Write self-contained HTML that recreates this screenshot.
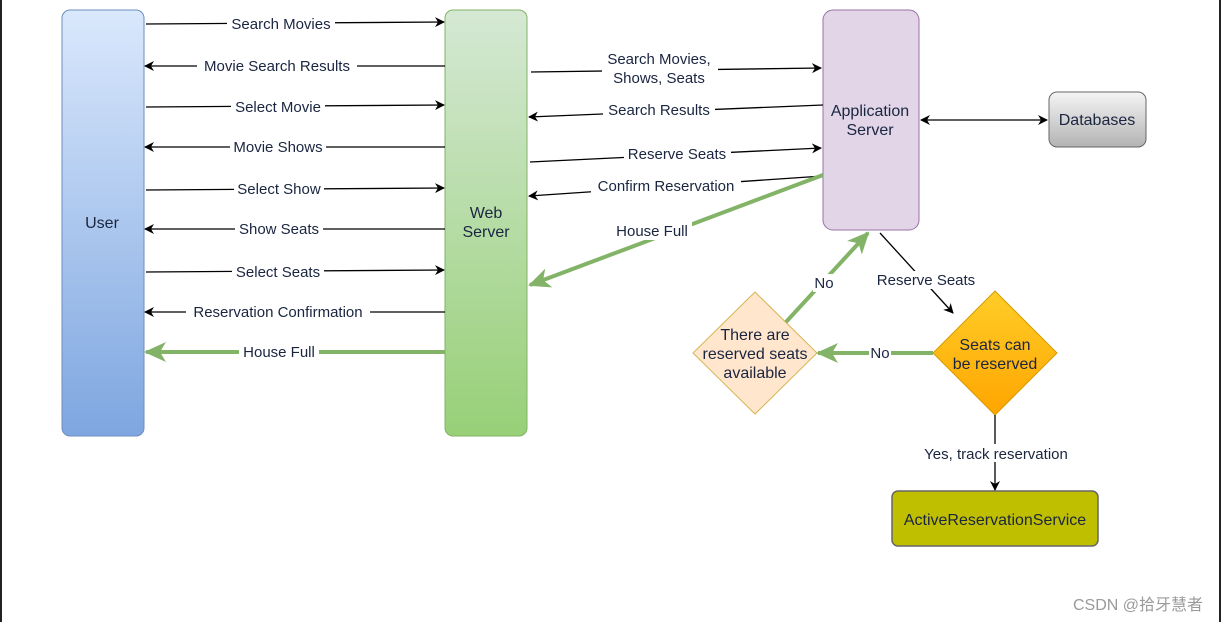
<!DOCTYPE html>
<html><head><meta charset="utf-8"><style>
html,body{margin:0;padding:0;background:#fff;}
svg{display:block;font-family:"Liberation Sans",Arial,sans-serif;}
</style></head><body>
<svg width="1221" height="622" viewBox="0 0 1221 622" xmlns="http://www.w3.org/2000/svg">
<defs>
<linearGradient id="gb" x1="0" y1="0" x2="0" y2="1"><stop offset="0" stop-color="#dae8fc"/><stop offset="1" stop-color="#7ea6e0"/></linearGradient>
<linearGradient id="gg" x1="0" y1="0" x2="0" y2="1"><stop offset="0" stop-color="#d5e8d4"/><stop offset="1" stop-color="#97d077"/></linearGradient>
<linearGradient id="gy" x1="0" y1="0" x2="0" y2="1"><stop offset="0" stop-color="#f5f5f5"/><stop offset="1" stop-color="#b3b3b3"/></linearGradient>
<linearGradient id="go" x1="0" y1="0" x2="0" y2="1"><stop offset="0" stop-color="#ffcd28"/><stop offset="1" stop-color="#ffa500"/></linearGradient>
<marker id="a" markerWidth="10" markerHeight="10" refX="9" refY="5" orient="auto" markerUnits="userSpaceOnUse"><path d="M0,0 L10,5 L0,10 L3,5 Z" fill="#000"/></marker>
<marker id="as" markerWidth="10" markerHeight="10" refX="1" refY="5" orient="auto" markerUnits="userSpaceOnUse"><path d="M10,0 L0,5 L10,10 L7,5 Z" fill="#000"/></marker>
<marker id="ag" markerWidth="22" markerHeight="20" refX="20" refY="10" orient="auto" markerUnits="userSpaceOnUse"><path d="M0,0 L22,10 L0,20 L6,10 Z" fill="#82b366"/></marker>
</defs>
<rect x="0" y="0" width="2" height="622" fill="#222"/>
<rect x="1219" y="0" width="2" height="622" fill="#222"/>
<rect x="62" y="10" width="82" height="426" rx="8" fill="url(#gb)" stroke="#6c8ebf"/>
<rect x="445" y="10" width="82" height="426" rx="8" fill="url(#gg)" stroke="#82b366"/>
<rect x="823" y="10" width="96" height="220" rx="10" fill="#e1d5e7" stroke="#9673a6"/>
<rect x="1049" y="92" width="97" height="55" rx="8" fill="url(#gy)" stroke="#666"/>
<rect x="892" y="491" width="206" height="55" rx="6" fill="#bfbf00" stroke="#666" stroke-width="1.5"/>
<polygon points="995,291 1057,353 995,415 933,353" fill="url(#go)" stroke="#d79b00"/>
<polygon points="755,292 817,353 755,414 693,353" fill="#ffe6cc" stroke="#d6b656"/>
<g font-size="16" fill="#1a2540" text-anchor="middle">
<text x="102" y="228">User</text>
<text x="486" y="218">Web</text><text x="486" y="237">Server</text>
<text x="870" y="116">Application</text><text x="870" y="135">Server</text>
<text x="1097" y="125">Databases</text>
<text x="995" y="525">ActiveReservationService</text>
<text x="995" y="350">Seats can</text><text x="995" y="369">be reserved</text>
<text x="755" y="340">There are</text><text x="755" y="359">reserved seats</text><text x="755" y="378">available</text>
</g>
<g stroke="#000" stroke-width="1.3" fill="none">
<line x1="146" y1="24" x2="444" y2="22" marker-end="url(#a)"/>
<line x1="445" y1="66" x2="145" y2="66" marker-end="url(#a)"/>
<line x1="146" y1="107" x2="444" y2="105" marker-end="url(#a)"/>
<line x1="445" y1="147" x2="145" y2="147" marker-end="url(#a)"/>
<line x1="146" y1="190" x2="444" y2="188" marker-end="url(#a)"/>
<line x1="445" y1="229" x2="145" y2="229" marker-end="url(#a)"/>
<line x1="146" y1="272" x2="444" y2="270" marker-end="url(#a)"/>
<line x1="445" y1="312" x2="145" y2="312" marker-end="url(#a)"/>
<line x1="531" y1="72" x2="821" y2="68" marker-end="url(#a)"/>
<line x1="823" y1="105" x2="529" y2="117" marker-end="url(#a)"/>
<line x1="530" y1="162" x2="821" y2="148" marker-end="url(#a)"/>
<line x1="823" y1="176" x2="529" y2="196" marker-end="url(#a)"/>
<line x1="921" y1="120" x2="1047" y2="120" marker-end="url(#a)" marker-start="url(#as)"/>
<line x1="880" y1="233" x2="953" y2="313" marker-end="url(#a)"/>
<line x1="995" y1="415" x2="995" y2="490" marker-end="url(#a)"/>
</g>
<g stroke="#82b366" stroke-width="4" fill="none">
<line x1="445" y1="352" x2="146" y2="352" marker-end="url(#ag)"/>
<line x1="823" y1="175" x2="530" y2="285" marker-end="url(#ag)"/>
<line x1="933" y1="353" x2="818" y2="353" marker-end="url(#ag)"/>
<line x1="786" y1="322" x2="868" y2="233" marker-end="url(#ag)"/>
</g>
<g font-size="15" fill="#1a2540" text-anchor="middle">
<g fill="#fff" stroke="none">
<rect x="227" y="15" width="108" height="18"/><rect x="197" y="57" width="160" height="18"/>
<rect x="231" y="98" width="94" height="18"/><rect x="230" y="138" width="96" height="18"/>
<rect x="234" y="180" width="90" height="18"/><rect x="235" y="220" width="88" height="18"/>
<rect x="232" y="262" width="92" height="18"/><rect x="186" y="303" width="184" height="18"/>
<rect x="239" y="343" width="80" height="18"/>
<rect x="602" y="50" width="116" height="38"/><rect x="603" y="101" width="112" height="18"/>
<rect x="624" y="145" width="107" height="18"/><rect x="591" y="177" width="150" height="18"/>
<rect x="612" y="222" width="80" height="18"/>
<rect x="869" y="344" width="22" height="18"/><rect x="813" y="274" width="22" height="18"/>
<rect x="870" y="271" width="112" height="18"/><rect x="916" y="444" width="160" height="18"/>
</g>
<text x="281" y="29">Search Movies</text>
<text x="277" y="71">Movie Search Results</text>
<text x="278" y="112">Select Movie</text>
<text x="278" y="152">Movie Shows</text>
<text x="279" y="194">Select Show</text>
<text x="279" y="234">Show Seats</text>
<text x="278" y="277">Select Seats</text>
<text x="278" y="317">Reservation Confirmation</text>
<text x="279" y="357">House Full</text>
<text x="659" y="64">Search Movies,</text><text x="659" y="83">Shows, Seats</text>
<text x="659" y="115">Search Results</text>
<text x="677" y="159">Reserve Seats</text>
<text x="666" y="191">Confirm Reservation</text>
<text x="652" y="236">House Full</text>
<text x="880" y="358">No</text>
<text x="824" y="288">No</text>
<text x="926" y="285">Reserve Seats</text>
<text x="996" y="459">Yes, track reservation</text>
</g>
<text x="1138" y="610" font-size="16" fill="#9a9a9a" text-anchor="middle" font-family="Liberation Sans,'Noto Sans CJK SC',sans-serif">CSDN @拾牙慧者</text>
</svg>
</body></html>
